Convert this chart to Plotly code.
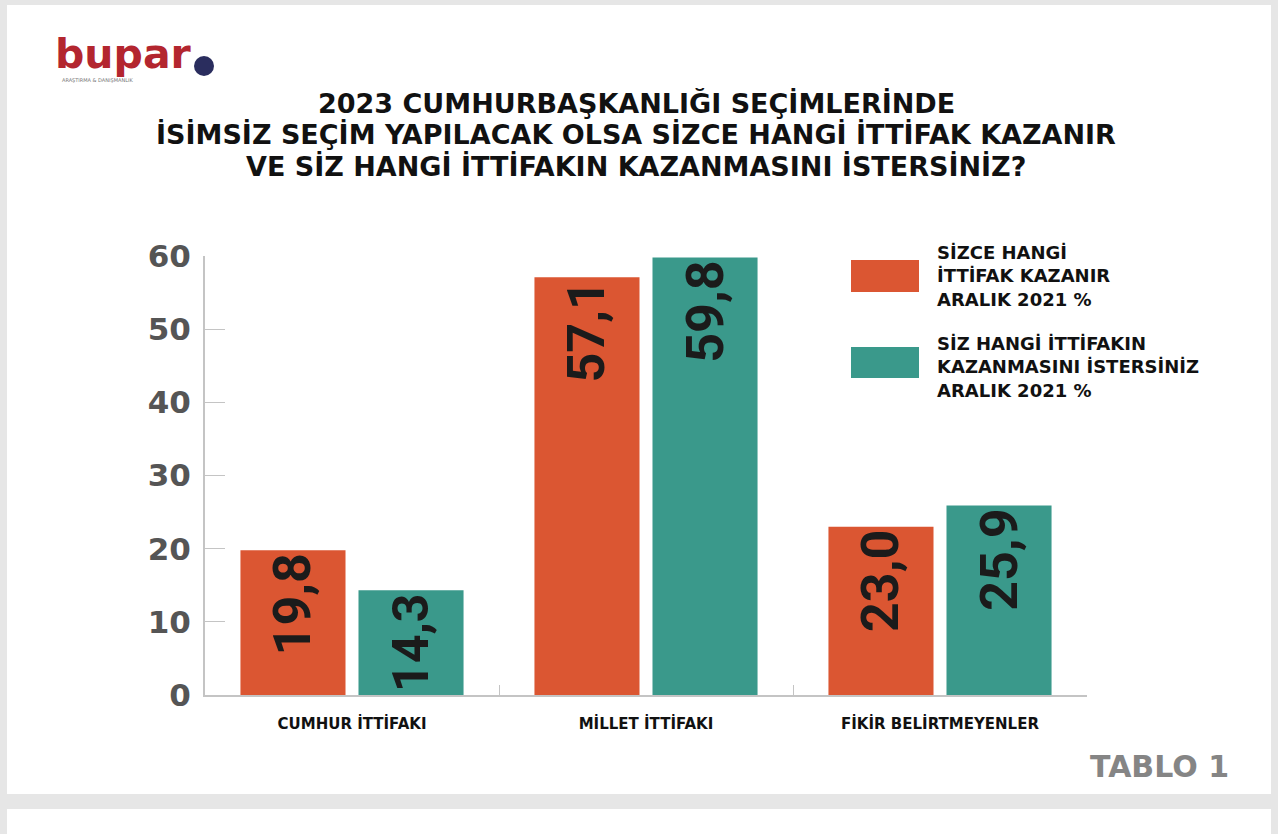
import plotly.graph_objects as go

categories = ["CUMHUR İTTİFAKI", "MİLLET İTTİFAKI", "FİKİR BELİRTMEYENLER"]
series_names = ["SİZCE HANGİ<br>İTTİFAK KAZANIR<br>ARALIK 2021 %",
                "SİZ HANGİ İTTİFAKIN<br>KAZANMASINI İSTERSİNİZ<br>ARALIK 2021 %"]
title_lines = ["2023 CUMHURBAŞKANLIĞI SEÇİMLERİNDE",
               "İSİMSİZ SEÇİM YAPILACAK OLSA SİZCE HANGİ İTTİFAK KAZANIR",
               "VE SİZ HANGİ İTTİFAKIN KAZANMASINI İSTERSİNİZ?"]
kazanir = [19.8, 57.1, 23.0]
isterdiniz = [14.3, 59.8, 25.9]
y_ticks = [0, 10, 20, 30, 40, 50, 60]

ORANGE = "#db5632"
TEAL = "#3a998b"
W, H = 1278, 834
L, R, T, B = 205, 1087, 256, 695

def px(x):
    return (x - L) / (R - L)

def py(y):
    return (B - y) / (B - T)

HEAVY = "DejaVu Sans"
NUM = "Roboto"

fig = go.Figure()
for name, vals, col in [(series_names[0], kazanir, ORANGE), (series_names[1], isterdiniz, TEAL)]:
    fig.add_trace(go.Bar(
        x=categories, y=vals, name=name, marker=dict(color=col, line=dict(width=0)),
        texttemplate="%{y:.1f}", textposition="inside", insidetextanchor="end",
        textangle=-90, textfont=dict(family=NUM, size=52, color="#1b1b1b", weight=700),
        showlegend=False,
    ))

shapes = [
    dict(type="rect", xref="paper", yref="paper", x0=px(7), x1=px(1271), y0=py(794), y1=py(5),
         fillcolor="white", line=dict(width=0), layer="below"),
    dict(type="rect", xref="paper", yref="paper", x0=px(7), x1=px(1271), y0=py(840), y1=py(809),
         fillcolor="white", line=dict(width=0), layer="below"),
    dict(type="rect", xref="paper", yref="paper", x0=px(851), x1=px(919), y0=py(292), y1=py(260),
         fillcolor=ORANGE, line=dict(width=0)),
    dict(type="rect", xref="paper", yref="paper", x0=px(851), x1=px(919), y0=py(378), y1=py(347),
         fillcolor=TEAL, line=dict(width=0)),
    dict(type="circle", xref="paper", yref="paper", x0=px(194), x1=px(214), y0=py(76), y1=py(56),
         fillcolor="#2a2d5e", line=dict(width=0)),
]

annotations = []
for line, yc in zip(title_lines, [104, 135, 166]):
    annotations.append(dict(text=line, x=px(636), y=py(yc), xref="paper", yref="paper",
                            xanchor="center", yanchor="middle", showarrow=False,
                            font=dict(family=HEAVY, size=27, color="#111111", weight=700)))
annotations += [
    dict(text=series_names[0], x=px(935), y=py(276), xref="paper", yref="paper",
         xanchor="left", yanchor="middle", showarrow=False, align="left",
         font=dict(family=HEAVY, size=18, color="#111111", weight=700)),
    dict(text=series_names[1], x=px(935), y=py(367), xref="paper", yref="paper",
         xanchor="left", yanchor="middle", showarrow=False, align="left",
         font=dict(family=HEAVY, size=18, color="#111111", weight=700)),
    dict(text="bupar", x=px(53), y=py(54), xref="paper", yref="paper",
         xanchor="left", yanchor="middle", showarrow=False,
         font=dict(family=HEAVY, size=41, color="#b3262f", weight=700)),
    dict(text="ARAŞTIRMA & DANIŞMANLIK", x=px(60), y=py(80), xref="paper", yref="paper",
         xanchor="left", yanchor="middle", showarrow=False,
         font=dict(family=HEAVY, size=5, color="#777777")),
    dict(text="TABLO 1", x=px(1231), y=py(766), xref="paper", yref="paper",
         xanchor="right", yanchor="middle", showarrow=False,
         font=dict(family=HEAVY, size=30, color="#858585", weight=700)),
]

fig.update_layout(
    width=W, height=H,
    margin=dict(l=L, r=W - R, t=T, b=H - B, pad=0),
    paper_bgcolor="#e6e6e6", plot_bgcolor="white",
    barmode="group", bargap=0.197, bargroupgap=0.11,
    separators=",.",
    shapes=shapes, annotations=annotations,
    uniformtext=dict(mode=False),
)
fig.update_xaxes(
    showline=True, linecolor="#c4c4c4", linewidth=2,
    ticks="inside", tickson="boundaries", ticklen=10, tickcolor="#c4c4c4",
    tickfont=dict(family=HEAVY, size=15, color="#111111", weight=700),
    ticklabelstandoff=14, showgrid=False, fixedrange=True,
)
fig.update_yaxes(
    range=[0, 60], tickvals=y_ticks, showline=True, linecolor="#c4c4c4", linewidth=2,
    ticks="inside", ticklen=20, tickcolor="#c4c4c4", showgrid=False, zeroline=False,
    tickfont=dict(family=HEAVY, size=31, color="#555555", weight=700), ticklabelstandoff=6,
)

fig.write_html("out.html")
